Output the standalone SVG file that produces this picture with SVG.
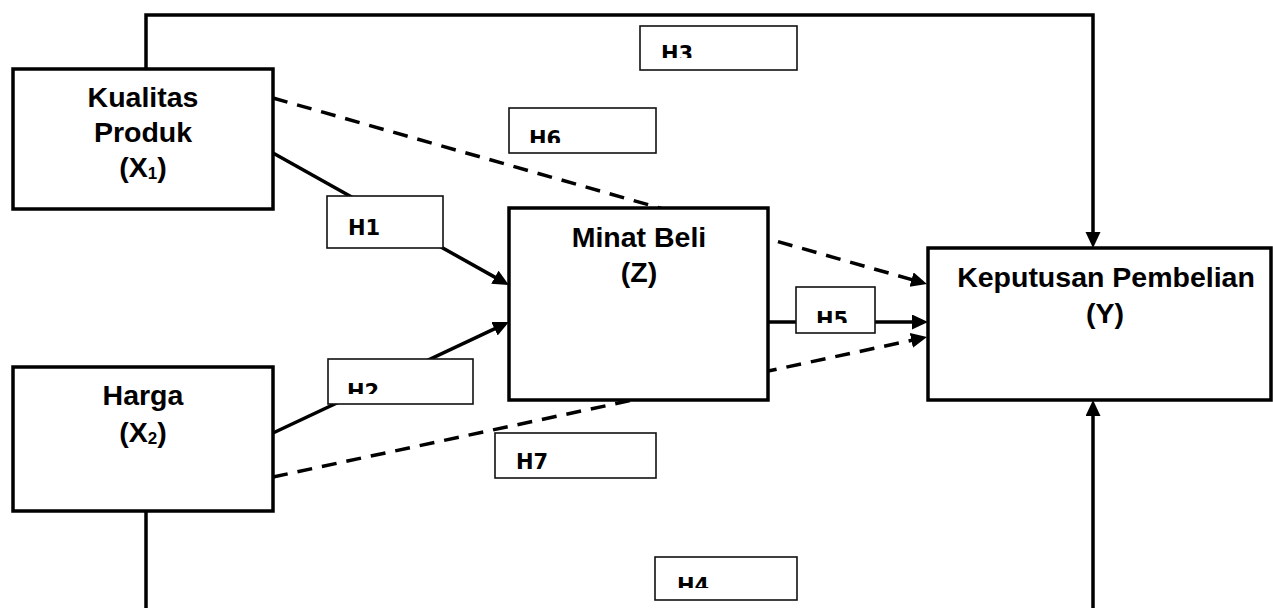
<svg xmlns="http://www.w3.org/2000/svg" width="1273" height="608" viewBox="0 0 1273 608">
<style>
.node{fill:#fff;stroke:#000;stroke-width:3.5}
.lbl{fill:#fff;stroke:#111;stroke-width:1.6}
.t{font-family:"Liberation Sans",Arial,sans-serif;font-weight:bold;font-size:28.5px;fill:#000;text-anchor:middle}
.h{font-family:"DejaVu Sans",Verdana,sans-serif;font-weight:bold;font-size:21px;fill:#000}
.c{fill:none;stroke:#000;stroke-width:3.5}
.d{stroke-dasharray:15 10}
</style>
<defs>
<marker id="ah" markerUnits="userSpaceOnUse" markerWidth="18" markerHeight="18" refX="7" refY="7.5" orient="auto">
<path d="M0,0 L16,7.5 L0,15 Z" fill="#000"/>
</marker>
<clipPath id="c3"><rect x="640" y="26" width="157" height="32"/></clipPath>
<clipPath id="c6"><rect x="509" y="108" width="147" height="35"/></clipPath>
<clipPath id="c5"><rect x="796" y="287" width="79" height="36"/></clipPath>
<clipPath id="c2"><rect x="328" y="359" width="145" height="35"/></clipPath>
<clipPath id="c4"><rect x="655" y="557" width="142" height="31"/></clipPath>
</defs>
<g id="connectors">
<path class="c" d="M146,69 V15 H1093 V239" marker-end="url(#ah)"/>
<path class="c" d="M146,511 V625 H1093 V409" marker-end="url(#ah)"/>
<path class="c" d="M273,153 L501,280.6" marker-end="url(#ah)"/>
<path class="c" d="M273,433 L500.8,325.8" marker-end="url(#ah)"/>
<path class="c" d="M768,322 L919,322" marker-end="url(#ah)"/>
<path class="c d" d="M273,98 L918.3,281.5" marker-end="url(#ah)"/>
<path class="c d" d="M273,477 L918.2,338.9" marker-end="url(#ah)"/>
</g>
<g id="node-x1">
<rect class="node" x="13" y="69" width="260" height="140"/>
<text class="t" x="143" y="107">Kualitas</text>
<text class="t" x="143" y="142">Produk</text>
<text class="t" x="143" y="177">(X<tspan font-size="17" dy="2">1</tspan><tspan dy="-2">)</tspan></text>
</g>
<g id="node-x2">
<rect class="node" x="13" y="367" width="260" height="144"/>
<text class="t" x="143" y="405">Harga</text>
<text class="t" x="143" y="442">(X<tspan font-size="17" dy="2">2</tspan><tspan dy="-2">)</tspan></text>
</g>
<g id="node-z">
<rect class="node" x="509" y="208" width="259" height="192"/>
<text class="t" x="639" y="247">Minat Beli</text>
<text class="t" x="639" y="282">(Z)</text>
</g>
<g id="node-y">
<rect class="node" x="928" y="248" width="343" height="152"/>
<text class="t" x="1106" y="287">Keputusan Pembelian</text>
<text class="t" x="1105" y="323">(Y)</text>
</g>
<g id="label-h3">
<rect class="lbl" x="640" y="26" width="157" height="44"/>
<text class="h" x="661" y="60.5" clip-path="url(#c3)">H3</text>
</g>
<g id="label-h6">
<rect class="lbl" x="509" y="108" width="147" height="45"/>
<text class="h" x="529" y="145.5" clip-path="url(#c6)">H6</text>
</g>
<g id="label-h1">
<rect class="lbl" x="327" y="196" width="116" height="52"/>
<text class="h" x="348" y="235">H1</text>
</g>
<g id="label-h5">
<rect class="lbl" x="796" y="287" width="79" height="46"/>
<text class="h" x="816" y="326.5" clip-path="url(#c5)">H5</text>
</g>
<g id="label-h2">
<rect class="lbl" x="328" y="359" width="145" height="45"/>
<text class="h" x="347" y="398.5" clip-path="url(#c2)">H2</text>
</g>
<g id="label-h7">
<rect class="lbl" x="495" y="433" width="161" height="45"/>
<text class="h" x="516" y="469">H7</text>
</g>
<g id="label-h4">
<rect class="lbl" x="655" y="557" width="142" height="43"/>
<text class="h" x="677" y="592.5" clip-path="url(#c4)">H4</text>
</g>
</svg>
